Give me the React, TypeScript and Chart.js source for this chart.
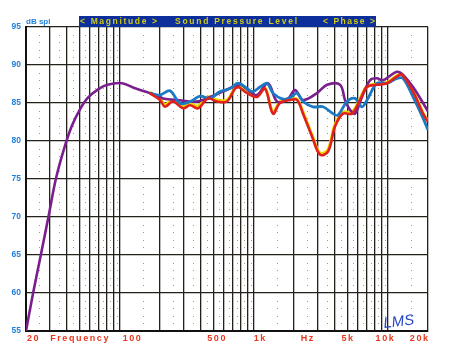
import React, { useEffect, useRef } from "react";
import { Chart, registerables } from "chart.js";

Chart.register(...registerables);

// ---- data (frequency in Hz, level in dB SPL) ----
const purpleFreq = [20, 22.6, 25.8, 29.4, 33.4, 38.5, 44, 50.7, 58, 69, 81, 104, 132, 168, 176, 200, 211, 268, 378, 472, 590, 791, 939, 1059, 1280, 1493, 1774, 2035, 2336, 2970, 3528, 4410, 4806, 5235, 5706, 6437, 7383, 8325, 9228, 11742, 13020, 15460, 18360, 20000];
const purpleDb = [55, 60, 65, 70, 75, 79, 82, 84.2, 85.7, 86.8, 87.4, 87.6, 86.9, 86.3, 86.1, 85.8, 85.6, 85.4, 85.2, 85.8, 86.5, 87.4, 86.5, 86.05, 87.6, 85.2, 85.4, 86.7, 85.4, 86.3, 87.4, 87.4, 85.4, 84.1, 83.6, 85.8, 88.0, 88.25, 88.0, 89.1, 88.7, 87.1, 85.0, 83.9];

const blueFreq = [168, 200, 237.5, 282, 335, 398, 472, 561, 666, 764, 892, 989, 1115, 1258, 1394, 1656, 1868, 2106, 2336, 2773, 3293, 3909, 4260, 4973, 5706, 6437, 7014, 8325, 9886, 11742, 13020, 15460, 18360, 20000];
const blueDb = [86.3, 86.05, 86.6, 84.96, 85.17, 85.9, 85.6, 86.5, 86.9, 87.6, 86.9, 86.5, 87.1, 87.6, 86.3, 85.5, 85.7, 86.3, 85.2, 84.5, 84.5, 83.6, 83.4, 85.2, 85.6, 84.5, 85.4, 87.6, 87.6, 88.25, 88.25, 85.8, 83.0, 81.45];

const redFreq = [168, 200, 218, 250, 297, 335, 384, 456, 532, 632, 751, 892, 1059, 1215, 1394, 1573, 1868, 2106, 2336, 2725, 3127, 3588, 4046, 4643, 5419, 6219, 7014, 8325, 9886, 11742, 12797, 15460, 18360, 20000];
const redDb = [86.3, 85.4, 84.5, 85.2, 84.3, 84.7, 84.3, 85.6, 85.2, 85.2, 87.1, 86.3, 85.8, 86.9, 83.6, 85.0, 85.4, 85.4, 83.6, 80.6, 78.2, 78.6, 81.9, 83.6, 83.6, 85.4, 87.1, 87.4, 87.6, 88.5, 88.7, 86.5, 83.6, 82.5];

const yellowFreq = [168, 200, 218, 250, 297, 335, 384, 456, 532, 632, 751, 892, 1059, 1215, 1394, 1573, 1868, 2106, 2336, 2725, 3127, 3588, 4046, 4643, 5419, 6219, 7014, 8325, 9886, 11742, 12797, 15460, 18360, 20000];
const yellowDb = [86.4, 85.6, 84.8, 85.4, 84.6, 84.9, 84.6, 85.8, 85.4, 85.4, 87.2, 86.4, 85.9, 87.0, 83.8, 85.2, 85.5, 85.5, 83.8, 80.8, 78.4, 78.9, 82.2, 83.8, 83.8, 85.6, 87.2, 87.5, 87.7, 88.6, 88.8, 86.6, 83.7, 82.6];

// ---- axes / labels ----
const xMin = 20;
const xMax = 20000;
const yMin = 55;
const yMax = 95;
const xGridFreqs = [20, 30, 40, 50, 60, 70, 80, 90, 100, 200, 300, 400, 500, 600, 700, 800, 900, 1000, 2000, 3000, 4000, 5000, 6000, 7000, 8000, 9000, 10000, 20000];
const xMinorFreqs = [25, 35, 45, 55, 65, 75, 85, 95, 150, 250, 350, 450, 550, 650, 750, 850, 950, 1500, 2500, 3500, 4500, 5500, 6500, 7500, 8500, 9500, 15000];
const yTickValues = [55, 60, 65, 70, 75, 80, 85, 90, 95];
const xLabelText = ["20", "Frequency", "100", "500", "1k", "Hz", "5k", "10k", "20k"];
const xLabelFreq = [20, 50, 100, 500, 1000, 2500, 5000, 10000, 20000];
const xLabelAlign = ["left", "center", "left", "center", "left", "center", "center", "center", "right"];
const xLabelShift = [1, 0, 3, 3, 0, 0, 0, -3, 0];
const yUnit = "dB spl";
const titleParts = ["< Magnitude >", "Sound Pressure Level", "< Phase >"];

const FONT = '"Liberation Sans", Arial, sans-serif';

function drawSpaced(ctx: CanvasRenderingContext2D, text: string, x: number, y: number, width: number) {
  ctx.save();
  (ctx as any).letterSpacing = "0px";
  const w = ctx.measureText(text).width;
  const n = text.length;
  const sp = n > 1 ? (width - w) / (n - 1) : 0;
  ctx.textAlign = "left";
  let cx = x;
  for (const ch of text) {
    ctx.fillText(ch, cx, y);
    cx += ctx.measureText(ch).width + sp;
  }
  ctx.restore();
}

const decorPlugin = {
  id: "decor",
  beforeDatasetsDraw(chart: any) {
    const { ctx, scales } = chart;
    const xs = scales.x;
    const ys = scales.y;
    ctx.save();
    ctx.fillStyle = "#9a9a8a";
    for (const f of xMinorFreqs) {
      const px = Math.round(xs.getPixelForValue(f));
      for (let v = yMin + 1; v < yMax; v++) {
        if (v % 5 === 0) continue;
        const py = Math.round(ys.getPixelForValue(v));
        ctx.fillRect(px, py, 1, 1);
      }
    }
    ctx.restore();
  },
  afterDraw(chart: any) {
    const { ctx, chartArea, scales } = chart;
    const xs = scales.x;
    const ys = scales.y;
    ctx.save();
    // y tick labels
    ctx.fillStyle = "#1f7fd8";
    ctx.font = `bold 8.5px ${FONT}`;
    ctx.textAlign = "right";
    ctx.textBaseline = "middle";
    for (const v of yTickValues) {
      ctx.fillText(String(v), 21, ys.getPixelForValue(v));
    }
    ctx.font = `bold 8px ${FONT}`;
    ctx.textAlign = "left";
    ctx.textBaseline = "alphabetic";
    ctx.fillText(yUnit, chartArea.left, chartArea.top - 3);

    // x labels
    ctx.fillStyle = "#e8361f";
    ctx.font = `bold 9px ${FONT}`;
    ctx.textBaseline = "middle";
    (ctx as any).letterSpacing = "1.6px";
    xLabelText.forEach((t, i) => {
      const px = xs.getPixelForValue(xLabelFreq[i]) + xLabelShift[i];
      const w = ctx.measureText(t).width - 1.6;
      let x0 = px;
      if (xLabelAlign[i] === "center") x0 = px - w / 2;
      else if (xLabelAlign[i] === "right") x0 = px - w;
      ctx.textAlign = "left";
      ctx.fillText(t, x0, chartArea.bottom + 8);
    });
    (ctx as any).letterSpacing = "0px";

    // title bar
    ctx.fillStyle = "#0d2f9c";
    ctx.fillRect(79, 16, 297, 11);
    ctx.fillStyle = "#cfcc10";
    ctx.font = `bold 8.5px ${FONT}`;
    ctx.textBaseline = "middle";
    drawSpaced(ctx, titleParts[0], 80, 22, 77);
    drawSpaced(ctx, titleParts[1], 175, 22, 122);
    drawSpaced(ctx, titleParts[2], 323, 22, 52);

    // signature
    ctx.fillStyle = "#2846c8";
    ctx.font = `italic 15px ${FONT}`;
    ctx.textBaseline = "alphabetic";
    ctx.textAlign = "left";
    ctx.save();
    ctx.translate(384, 328);
    ctx.rotate(-0.12);
    ctx.fillText("LMS", 0, 0);
    ctx.restore();
    ctx.restore();
  },
};

function toPts(f: number[], d: number[]) {
  return f.map((x, i) => ({ x, y: d[i] }));
}

export default function App() {
  const ref = useRef<HTMLCanvasElement | null>(null);
  useEffect(() => {
    if (!ref.current) return;
    const ds = (label: string, f: number[], d: number[], color: string, w: number, order: number) => ({
      label,
      data: toPts(f, d),
      borderColor: color,
      backgroundColor: color,
      borderWidth: w,
      pointRadius: 0,
      tension: 0.35,
      fill: false,
      order,
    });
    const chart = new Chart(ref.current, {
      type: "line",
      data: {
        datasets: [
          ds("yellow", yellowFreq, yellowDb, "#f0d400", 3, 5),
          ds("purple", purpleFreq, purpleDb, "#7b1f8e", 2.6, 4),
          ds("blue", blueFreq, blueDb, "#1c7ac4", 2.8, 3),
          ds("red", redFreq, redDb, "#e0201c", 2.6, 2),
        ],
      },
      plugins: [decorPlugin],
      options: {
        responsive: false,
        animation: false,
        events: [],
        layout: { padding: { left: 26, right: 22, top: 27, bottom: 28 } },
        plugins: { legend: { display: false }, tooltip: { enabled: false } },
        scales: {
          x: {
            type: "logarithmic",
            min: xMin,
            max: xMax,
            afterBuildTicks: (axis: any) => {
              axis.ticks = xGridFreqs.map((v) => ({ value: v }));
            },
            ticks: { display: false },
            grid: { color: "#23211a", lineWidth: 1.3, drawTicks: false },
            border: { display: true, color: "#111", width: 2 },
          },
          y: {
            type: "linear",
            min: yMin,
            max: yMax,
            ticks: { display: false, stepSize: 5 },
            grid: { color: "#23211a", lineWidth: 1.3, drawTicks: false },
            border: { display: true, color: "#111", width: 2 },
          },
        },
      },
    });
    return () => chart.destroy();
  }, []);
  return (
    <div style={{ position: "absolute", left: 0, top: 0, width: 450, height: 359, background: "#ffffff" }}>
      <canvas ref={ref} width={450} height={359} style={{ display: "block" }} />
    </div>
  );
}
